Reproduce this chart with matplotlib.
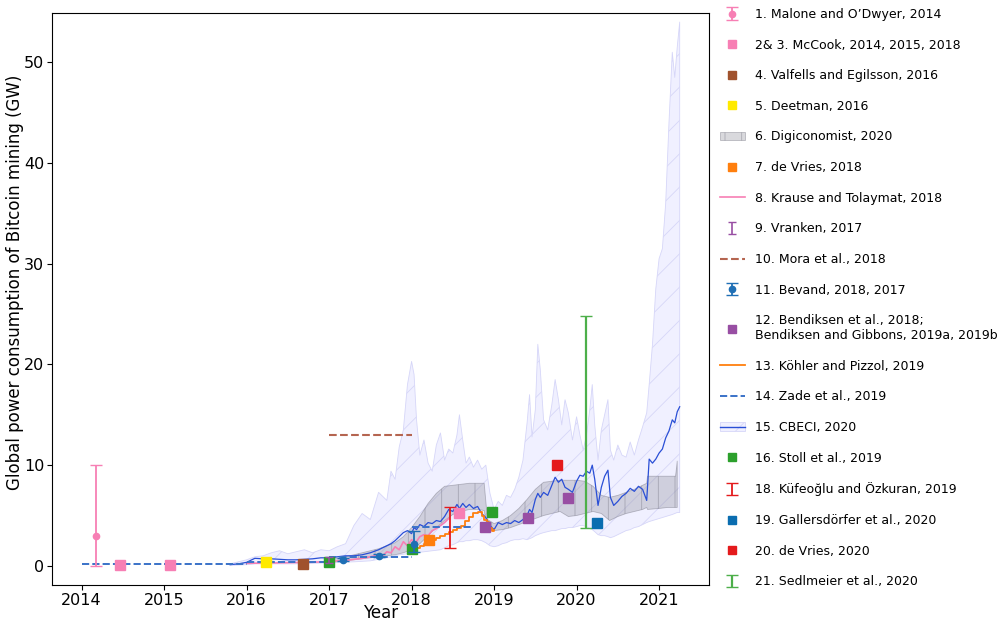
import matplotlib
matplotlib.use("Agg")
import matplotlib.pyplot as plt
import numpy as np
from matplotlib.lines import Line2D
from matplotlib.patches import Patch

plt.rcParams['hatch.linewidth'] = 0.6

# ---- point estimates (year, GW) ----
malone_x, malone_y, malone_lo, malone_hi = [2014.18], [3.0], [0.0], [10.0]
mccook_x = [2014.46, 2015.07, 2018.58]
mccook_y = [0.12, 0.12, 5.25]
valfells_x, valfells_y = [2016.68], [0.15]
deetman_x, deetman_y = [2016.24], [0.38]
devries18_x, devries18_y = [2018.21], [2.6]
vranken_x, vranken_y, vranken_lo, vranken_hi = [2017.0], [0.55], [0.27], [0.86]
mora_x, mora_y = [2017.0, 2018.0], [13.0, 13.0]
bevand_x = [2017.17, 2017.6, 2018.03]
bevand_y = [0.6, 1.0, 2.15]
bevand_lo = [0.45, 0.85, 1.4]
bevand_hi = [0.8, 1.15, 3.5]
bendiksen_x = [2018.89, 2019.41, 2019.9]
bendiksen_y = [3.9, 4.75, 6.75]
stoll_x = [2017.0, 2018.0, 2018.98]
stoll_y = [0.4, 1.65, 5.3]
kufeoglu_x, kufeoglu_lo, kufeoglu_hi = [2018.46], [1.8], [5.8]
galler_x, galler_y = [2020.25], [4.3]
devries20_x, devries20_y = [2019.76], [10.0]
sedlmeier_x, sedlmeier_lo, sedlmeier_hi = [2020.11], [3.8], [24.8]

# ---- Zade et al. (yearly segments) ----
zade_x = [2014.0, 2015.0, np.nan, 2015.0, 2016.0, np.nan, 2016.0, 2017.0, np.nan,
          2017.0, 2018.0, np.nan, 2018.0, 2018.75]
zade_y = [0.15, 0.15, np.nan, 0.2, 0.2, np.nan, 0.35, 0.35, np.nan,
          0.9, 0.9, np.nan, 3.9, 3.9]

# ---- Krause and Tolaymat ----
krause_t = [2016.0, 2016.2, 2016.4, 2016.6, 2016.8, 2017.0, 2017.1, 2017.2, 2017.3, 2017.4,
            2017.5, 2017.6, 2017.65, 2017.7, 2017.75, 2017.8, 2017.85, 2017.9, 2017.95, 2018.0,
            2018.05, 2018.1, 2018.15, 2018.2, 2018.25, 2018.3, 2018.35, 2018.4, 2018.45]
krause_v = [0.25, 0.28, 0.3, 0.33, 0.36, 0.42, 0.5, 0.55, 0.65, 0.75,
            0.9, 1.1, 1.0, 1.4, 1.3, 1.9, 1.6, 2.4, 2.0, 2.6,
            2.3, 2.9, 3.1, 3.0, 3.5, 3.7, 4.0, 4.3, 4.7]

# ---- Koehler and Pizzol ----
kohler_t = [2018.0, 2018.05, 2018.1, 2018.15, 2018.2, 2018.25, 2018.3, 2018.35, 2018.4, 2018.45,
            2018.5, 2018.55, 2018.6, 2018.65, 2018.7, 2018.75, 2018.8, 2018.85, 2018.88, 2018.91,
            2018.94, 2018.97, 2019.0]
kohler_v = [1.5, 1.8, 2.0, 2.2, 2.4, 2.6, 2.8, 3.0, 3.2, 3.4,
            3.6, 3.8, 4.0, 4.5, 4.9, 5.2, 5.3, 5.0, 4.6, 4.4,
            3.8, 3.5, 3.6]

# ---- Digiconomist band ----
digi_t = [2017.0, 2017.2, 2017.4, 2017.6, 2017.8, 2017.9, 2018.0, 2018.1, 2018.2, 2018.3,
          2018.4, 2018.5, 2018.6, 2018.7, 2018.8, 2018.88, 2018.92, 2019.0, 2019.1, 2019.2,
          2019.3, 2019.4, 2019.5, 2019.6, 2019.7, 2019.8, 2019.9, 2020.0, 2020.1, 2020.2,
          2020.3, 2020.4, 2020.5, 2020.6, 2020.7, 2020.8, 2020.85, 2020.86, 2021.0, 2021.1,
          2021.2, 2021.22]
digi_hi = [0.6, 0.9, 1.3, 1.7, 2.3, 2.9, 3.8, 4.9, 6.2, 7.2,
           7.9, 8.0, 8.1, 8.2, 8.2, 8.2, 4.6, 4.2, 4.5, 5.0,
           5.7, 6.6, 7.6, 8.3, 8.4, 8.5, 8.5, 8.5, 8.4, 7.9,
           7.0, 6.8, 7.0, 7.3, 7.6, 8.0, 8.2, 8.9, 8.9, 8.9,
           8.9, 10.4]
digi_lo = [0.35, 0.5, 0.7, 0.9, 1.1, 1.3, 1.6, 2.2, 3.0, 3.8,
           4.5, 5.1, 5.4, 5.6, 5.6, 5.5, 3.6, 3.5, 3.6, 3.8,
           4.1, 4.4, 4.7, 5.0, 5.2, 5.4, 4.9, 5.0, 5.2, 5.4,
           5.2, 4.5, 4.9, 5.2, 5.4, 5.6, 5.8, 5.6, 5.7, 5.8,
           5.8, 5.8]

# ---- CBECI ----
cbeci_t = [2015.80, 2015.90, 2016.00, 2016.10, 2016.20, 2016.30, 2016.40, 2016.50, 2016.60, 2016.70,
           2016.80, 2016.90, 2017.00, 2017.10, 2017.20, 2017.30, 2017.40, 2017.50, 2017.60, 2017.70,
           2017.75, 2017.80, 2017.85, 2017.90, 2017.95, 2018.00, 2018.03, 2018.06, 2018.10, 2018.15,
           2018.20, 2018.25, 2018.30, 2018.35, 2018.40, 2018.45, 2018.50, 2018.55, 2018.58, 2018.62,
           2018.66, 2018.70, 2018.75, 2018.80, 2018.85, 2018.90, 2018.95, 2019.00, 2019.05, 2019.10,
           2019.15, 2019.20, 2019.25, 2019.30, 2019.35, 2019.40, 2019.43, 2019.46, 2019.50, 2019.53,
           2019.56, 2019.60, 2019.65, 2019.70, 2019.74, 2019.78, 2019.82, 2019.86, 2019.90, 2019.95,
           2020.00, 2020.04, 2020.08, 2020.12, 2020.16, 2020.19, 2020.22, 2020.26, 2020.30, 2020.34,
           2020.38, 2020.41, 2020.45, 2020.50, 2020.55, 2020.60, 2020.65, 2020.70, 2020.75, 2020.80,
           2020.85, 2020.88, 2020.92, 2020.96, 2021.00, 2021.04, 2021.08, 2021.12, 2021.16, 2021.19,
           2021.22, 2021.25]
cbeci_v = [0.12, 0.2, 0.35, 0.75, 0.7, 0.7, 0.65, 0.6, 0.6, 0.65,
           0.7, 0.8, 0.8, 0.9, 1.0, 1.0, 1.1, 1.3, 1.6, 2.0,
           2.2, 2.5, 2.9, 3.3, 3.5, 3.2, 3.8, 3.6, 4.1, 3.9,
           4.3, 4.2, 4.5, 4.4, 4.9, 5.6, 5.4, 6.1, 5.7, 6.2,
           5.8, 6.1, 5.7, 5.9, 5.2, 4.8, 4.0, 3.6, 4.3, 4.1,
           4.3, 4.2, 4.5, 4.3, 4.6, 5.0, 5.6, 5.3, 6.6, 7.2,
           6.8, 7.3, 7.0, 8.0, 8.8, 8.3, 8.6, 7.8, 7.6, 7.3,
           8.4, 9.0, 8.9, 9.4, 9.2, 10.0, 8.6, 6.0, 7.8, 8.9,
           9.5, 6.8, 6.0, 6.4, 6.9, 7.2, 7.7, 7.4, 7.9, 7.6,
           6.5, 10.6, 10.2, 10.6, 11.2, 11.6, 12.7, 13.4, 14.5, 14.2,
           15.3, 15.8]
cbeci_lo = [0.05, 0.08, 0.12, 0.2, 0.2, 0.2, 0.2, 0.2, 0.2, 0.22,
            0.25, 0.28, 0.3, 0.33, 0.38, 0.4, 0.45, 0.5, 0.65, 0.8,
            0.9, 1.0, 1.1, 1.15, 1.2, 1.2, 1.25, 1.3, 1.35, 1.4,
            1.45, 1.5, 1.55, 1.6, 1.8, 2.0, 2.1, 2.3, 2.4, 2.4,
            2.5, 2.5, 2.6, 2.6, 2.5, 2.3, 2.0, 1.9, 2.0, 2.2,
            2.3, 2.5, 2.6, 2.6, 2.7, 2.6, 2.7, 2.8, 3.0, 3.1,
            3.2, 3.3, 3.4, 3.5, 3.5, 3.6, 3.7, 3.7, 3.8, 3.8,
            3.9, 4.0, 4.0, 3.9, 3.7, 3.6, 3.4, 3.1, 3.0, 3.0,
            2.9, 2.8, 2.9, 3.1, 3.3, 3.5, 3.6, 3.8, 3.9, 4.1,
            4.3, 4.4, 4.5, 4.6, 4.7, 4.8, 4.9, 5.0, 5.1, 5.2,
            5.3, 5.3]
cbeci_hi = [0.2, 0.4, 0.6, 0.9, 1.0, 1.3, 1.5, 1.2, 1.4, 1.6,
            1.3, 1.6, 1.5, 1.9, 2.2, 4.0, 5.2, 4.6, 7.3, 6.5,
            9.4, 8.6, 11.8, 13.5, 18.0, 20.3, 19.0, 14.5, 11.0, 12.5,
            10.2, 9.4, 12.0, 13.2, 10.5, 11.6, 11.2, 13.0, 15.0, 12.5,
            10.2, 10.8, 9.8, 10.5, 9.6, 10.0, 7.2, 5.6, 6.4, 6.0,
            7.0, 6.8, 7.6, 8.8, 10.5, 14.2, 17.0, 12.8, 15.5, 22.0,
            19.5, 14.5, 13.5, 16.0, 18.5, 16.5, 14.0, 16.5, 15.2, 12.5,
            14.8, 13.0, 11.5, 13.0, 15.5, 18.0, 14.0, 10.5, 13.5, 15.0,
            16.5, 11.5, 10.5, 12.0, 11.0, 10.8, 12.3, 11.0, 12.5, 13.8,
            15.2, 18.0, 22.0, 27.5, 30.5, 31.5, 36.0, 44.0, 51.0, 48.5,
            51.5, 54.0]

# colours
c_pink = '#f77fb4'
c_brown = '#a0522d'
c_yellow = '#ffea00'
c_orange = '#ff7f0e'
c_purple = '#984ea3'
c_blue = '#1f6fb5'
c_green = '#2ca02c'
c_red = '#e41a1c'
c_zade = '#3a72c8'
c_cbeci = '#2a4fd6'
c_galler = '#0a6db0'
c_mora = '#b56550'
c_sedl = '#4daf4a'
band_face = '#f0f0ff'
band_edge = '#d6d6f8'
digi_face = (0.55, 0.55, 0.6, 0.33)
digi_edge = (0.45, 0.45, 0.5, 0.45)

fig = plt.figure(figsize=(9.98, 6.24), dpi=100)
ax = fig.add_axes([0.052, 0.0625, 0.658, 0.9167])

# bands
ax.fill_between(cbeci_t, cbeci_lo, cbeci_hi, facecolor=band_face, edgecolor=band_edge,
                hatch='/', linewidth=0.6, zorder=1)
ax.fill_between(digi_t, digi_lo, digi_hi, facecolor=digi_face,
                edgecolor=digi_edge, hatch='|', linewidth=0.6, zorder=2)

# lines
ax.plot(krause_t, krause_v, color=c_pink, lw=1.2, zorder=3)
ax.plot(cbeci_t, cbeci_v, color=c_cbeci, lw=0.9, zorder=4)
ax.plot(kohler_t, kohler_v, color=c_orange, lw=1.3, drawstyle='steps-post', zorder=4)
ax.plot(zade_x, zade_y, color=c_zade, lw=1.4, ls='--', zorder=4)
ax.plot(mora_x, mora_y, color=c_mora, lw=1.5, ls='--', zorder=4)

# error bars
ms = 7
h_malone = ax.errorbar(malone_x, malone_y,
                       yerr=[np.subtract(malone_y, malone_lo), np.subtract(malone_hi, malone_y)],
                       fmt='o', color=c_pink, ms=4.5, capsize=4, lw=1.3, zorder=6)
h_bevand = ax.errorbar(bevand_x, bevand_y,
                       yerr=[np.subtract(bevand_y, bevand_lo), np.subtract(bevand_hi, bevand_y)],
                       fmt='o', color=c_blue, ms=4.5, capsize=4, lw=1.3, zorder=7)
h_kufe = ax.errorbar(kufeoglu_x, [(a + b) / 2 for a, b in zip(kufeoglu_lo, kufeoglu_hi)],
                     yerr=[[(b - a) / 2 for a, b in zip(kufeoglu_lo, kufeoglu_hi)]],
                     fmt='none', ecolor=c_red, capsize=4, lw=1.3, zorder=6)
h_sedl = ax.errorbar(sedlmeier_x, [(a + b) / 2 for a, b in zip(sedlmeier_lo, sedlmeier_hi)],
                     yerr=[[(b - a) / 2 for a, b in zip(sedlmeier_lo, sedlmeier_hi)]],
                     fmt='none', ecolor=c_sedl, capsize=4, lw=1.6, zorder=6)

# squares
ax.plot(mccook_x, mccook_y, 's', color=c_pink, ms=ms, zorder=6)
ax.plot(valfells_x, valfells_y, 's', color=c_brown, ms=ms, zorder=6)
ax.plot(deetman_x, deetman_y, 's', color=c_yellow, ms=ms, zorder=6)
ax.plot(devries18_x, devries18_y, 's', color=c_orange, ms=ms, zorder=6)
ax.plot(bendiksen_x, bendiksen_y, 's', color=c_purple, ms=ms, zorder=6)
ax.plot(stoll_x, stoll_y, 's', color=c_green, ms=ms, zorder=6)
ax.plot(galler_x, galler_y, 's', color=c_galler, ms=ms, zorder=6)
ax.plot(devries20_x, devries20_y, 's', color=c_red, ms=ms, zorder=6)
h_vranken = ax.errorbar(vranken_x, vranken_y,
                        yerr=[np.subtract(vranken_y, vranken_lo), np.subtract(vranken_hi, vranken_y)],
                        fmt='none', ecolor=c_purple, capsize=3, lw=1.2, zorder=7)

ax.set_xlim(2013.64, 2021.6)
ax.set_ylim(-1.9, 54.9)
ax.set_xticks([2014, 2015, 2016, 2017, 2018, 2019, 2020, 2021])
ax.set_yticks([0, 10, 20, 30, 40, 50])
ax.tick_params(labelsize=11.5, pad=2)
ax.set_xlabel('Year', fontsize=12)
ax.set_ylabel('Global power consumption of Bitcoin mining (GW)', fontsize=12)
ax.xaxis.set_label_coords(0.5, -0.034)
ax.yaxis.set_label_coords(-0.043, 0.53)

# legend
def sq(color):
    return Line2D([], [], ls='', marker='s', color=color, ms=6)

handles = [
    h_malone,
    sq(c_pink),
    sq(c_brown),
    sq(c_yellow),
    Patch(facecolor=digi_face, edgecolor=digi_edge, hatch='|', lw=0.6),
    sq(c_orange),
    Line2D([], [], color=c_pink, lw=1.2),
    h_vranken,
    Line2D([], [], color=c_mora, lw=1.5, ls='--'),
    h_bevand,
    sq(c_purple),
    Line2D([], [], color=c_orange, lw=1.3),
    Line2D([], [], color=c_zade, lw=1.4, ls='--'),
    (Patch(facecolor=band_face, edgecolor=band_edge, hatch='/', lw=0.6),
     Line2D([], [], color=c_cbeci, lw=1.0)),
    sq(c_green),
    h_kufe,
    sq(c_galler),
    sq(c_red),
    h_sedl,
]
labels = [
    '1. Malone and O\u2019Dwyer, 2014',
    '2& 3. McCook, 2014, 2015, 2018',
    '4. Valfells and Egilsson, 2016',
    '5. Deetman, 2016',
    '6. Digiconomist, 2020',
    '7. de Vries, 2018',
    '8. Krause and Tolaymat, 2018',
    '9. Vranken, 2017',
    '10. Mora et al., 2018',
    '11. Bevand, 2018, 2017',
    '12. Bendiksen et al., 2018;\nBendiksen and Gibbons, 2019a, 2019b',
    '13. K\u00f6hler and Pizzol, 2019',
    '14. Zade et al., 2019',
    '15. CBECI, 2020',
    '16. Stoll et al., 2019',
    '18. K\u00fcfeo\u011flu and \u00d6zkuran, 2019',
    '19. Gallersd\u00f6rfer et al., 2020',
    '20. de Vries, 2020',
    '21. Sedlmeier et al., 2020',
]
ax.legend(handles, labels, loc='upper left', bbox_to_anchor=(1.0, 1.0285), frameon=False,
          fontsize=9, labelspacing=1.41, handlelength=2.0)

fig.savefig('out.png', dpi=100)
